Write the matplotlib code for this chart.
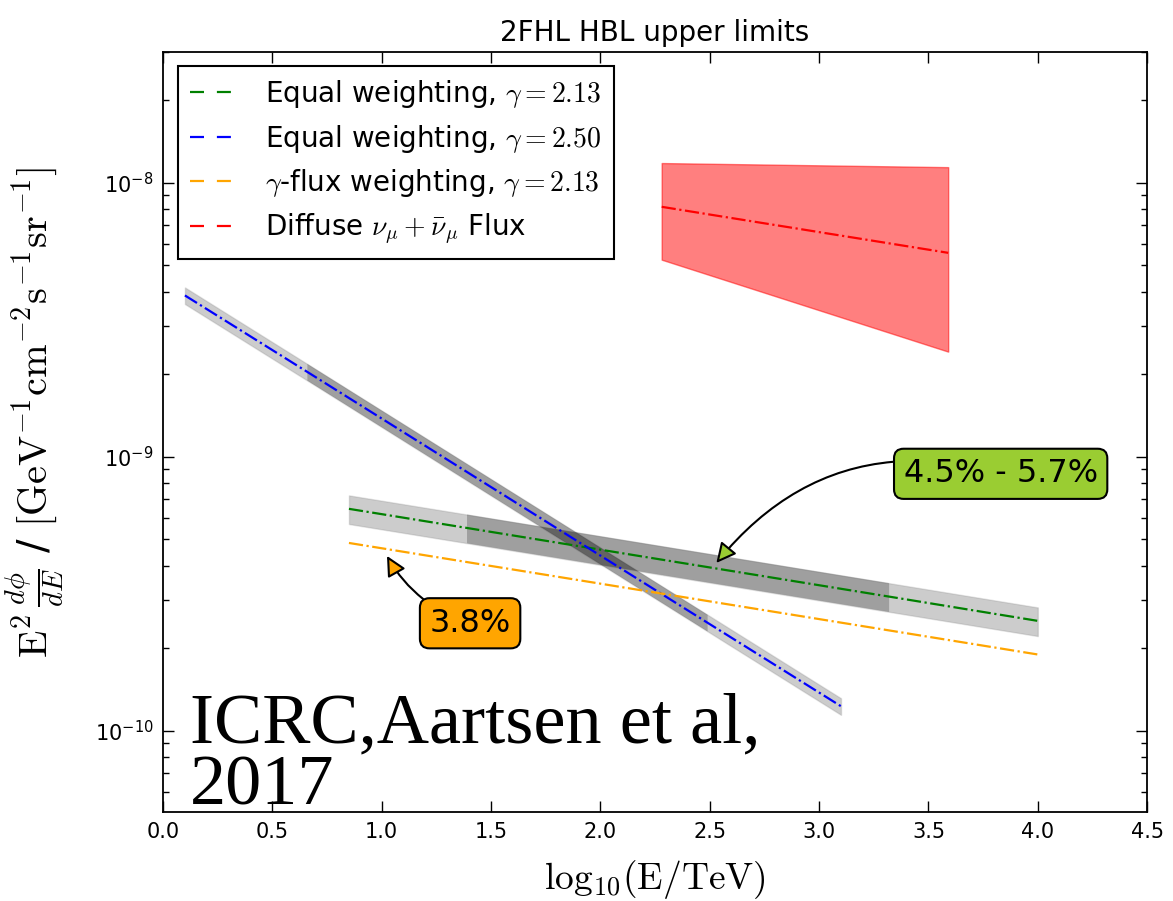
import matplotlib
matplotlib.use("Agg")
import matplotlib.pyplot as plt
from matplotlib.lines import Line2D

plt.rcParams['mathtext.fontset'] = 'cm'
plt.rcParams['font.family'] = ['DejaVu Sans']

# Upper-limit lines: x = log10(E/TeV), y = E^2 dphi/dE [GeV^-1 cm^-2 s^-1 sr^-1]
# Equal weighting, gamma = 2.13 (points: start, sensitive-range start/end, end)
eq213_x = [0.85, 1.39, 3.32, 4.00]
eq213_y = [6.46e-10, 5.50e-10, 3.09e-10, 2.52e-10]
eq213_band = (0.88, 1.12)          # relative lower / upper band edges
eq213_dark = (1, 2)                # index range of the central 90% energy range

# Equal weighting, gamma = 2.50
eq250_x = [0.10, 0.66, 2.49, 3.10]
eq250_y = [3.88e-9, 2.04e-9, 2.48e-10, 1.23e-10]
eq250_band = (0.93, 1.07)
eq250_dark = (1, 2)

# gamma-flux weighting, gamma = 2.13
gflux_x = [0.85, 4.00]
gflux_y = [4.85e-10, 1.90e-10]

# Diffuse nu_mu + anti-nu_mu flux with its uncertainty band
diff_x = [2.28, 3.59]
diff_y = [8.17e-9, 5.55e-9]
diff_hi = [1.18e-8, 1.14e-8]
diff_lo = [5.24e-9, 2.42e-9]

legend_labels = [r'Equal weighting, $\gamma=2.13$',
                 r'Equal weighting, $\gamma=2.50$',
                 r'$\gamma$-flux weighting, $\gamma=2.13$',
                 r'Diffuse $\nu_\mu+\bar{\nu}_\mu$ Flux']
legend_colors = ['#008000', '#0000ff', '#ffa500', '#ff0000']

x_ticks = [0.0, 0.5, 1.0, 1.5, 2.0, 2.5, 3.0, 3.5, 4.0, 4.5]

fig = plt.figure(figsize=(11.73, 9.01), dpi=100)
ax = fig.add_axes([0.139, 0.0988, 0.839, 0.8435])
ax.set_yscale('log')


def band(xs, ys, frac, dark):
    lo = [y * frac[0] for y in ys]
    hi = [y * frac[1] for y in ys]
    ax.fill_between(xs, lo, hi, facecolor='k', alpha=0.2,
                    edgecolor='0.45', lw=1.0, zorder=1)
    i0, i1 = dark
    ax.fill_between(xs[i0:i1 + 1], lo[i0:i1 + 1], hi[i0:i1 + 1],
                    facecolor='k', alpha=0.22, lw=0, zorder=1)


band(eq250_x, eq250_y, eq250_band, eq250_dark)
band(eq213_x, eq213_y, eq213_band, eq213_dark)

ax.fill_between(diff_x, diff_lo, diff_hi, facecolor='#ff0000', alpha=0.5,
                edgecolor='#ff0000', lw=1.0, zorder=1)

ax.plot(eq213_x, eq213_y, ls='-.', color=legend_colors[0], lw=1.6, zorder=3)
ax.plot(eq250_x, eq250_y, ls='-.', color=legend_colors[1], lw=1.6, zorder=3)
ax.plot(gflux_x, gflux_y, ls='-.', color=legend_colors[2], lw=1.6, zorder=3)
ax.plot(diff_x, diff_y, ls='-.', color=legend_colors[3], lw=1.6, zorder=3)

handles = [Line2D([], [], ls='--', dashes=(6.3, 5.8), color=c, lw=1.6)
           for c in legend_colors]
leg = ax.legend(handles, legend_labels, loc='upper left',
                bbox_to_anchor=(0.015, 0.982), borderaxespad=0,
                fontsize=20, fancybox=False, framealpha=1,
                handlelength=1.5, handletextpad=1.2, borderpad=0.45,
                labelspacing=0.45)
leg.get_frame().set_edgecolor('k')
leg.get_frame().set_linewidth(1.5)

ax.annotate('4.5% - 5.7%', xy=(2.53, 4.10e-10), xytext=(3.83, 8.67e-10),
            fontsize=23, ha='center', va='center', zorder=6,
            bbox=dict(boxstyle='round,pad=0.3', fc='#9acd32', ec='k', lw=1.5),
            arrowprops=dict(arrowstyle='-|>', connectionstyle='arc3,rad=0.33',
                            fc='#9acd32', ec='k', lw=1.5, mutation_scale=30,
                            shrinkA=0, shrinkB=0))
ax.annotate('3.8%', xy=(1.024, 4.35e-10), xytext=(1.404, 2.47e-10),
            fontsize=23, ha='center', va='center', zorder=6,
            bbox=dict(boxstyle='round,pad=0.3', fc='#ffa500', ec='k', lw=1.5),
            arrowprops=dict(arrowstyle='-|>', connectionstyle='arc3,rad=-0.2',
                            fc='#ffa500', ec='k', lw=1.5, mutation_scale=30,
                            shrinkA=0, shrinkB=0))

ax.text(0.027, 0.092, 'ICRC,Aartsen et al,', transform=ax.transAxes,
        family='Liberation Serif', fontsize=52, va='baseline', ha='left', zorder=5)
ax.text(0.027, 0.010, '2017', transform=ax.transAxes,
        family='Liberation Serif', fontsize=52, va='baseline', ha='left', zorder=5)

ax.set_xlim(0.0, 4.5)
ax.set_ylim(5.06e-11, 3.0e-8)
ax.set_xticks(x_ticks)
ax.set_xticklabels(['%.1f' % t for t in x_ticks])

ax.tick_params(which='both', direction='in', top=True, right=True, labelsize=15)
ax.tick_params(which='major', length=8, width=1.0, pad=7)
ax.tick_params(which='minor', length=4, width=1.0)
for s in ax.spines.values():
    s.set_linewidth(1.3)

ax.set_title('2FHL HBL upper limits', fontsize=20, pad=8)
ax.set_xlabel(r'$\mathrm{log_{10}(E/TeV)}$', fontsize=27, labelpad=12)
ax.set_ylabel(r'$\mathrm{E}^2\,\frac{d\phi}{dE}$ / '
              r'$[\mathrm{GeV}^{-1}\mathrm{cm}^{-2}\mathrm{s}^{-1}\mathrm{sr}^{-1}]$',
              fontsize=29)
ax.yaxis.set_label_coords(-0.098, 0.526)

fig.savefig('out.png', dpi=100)
